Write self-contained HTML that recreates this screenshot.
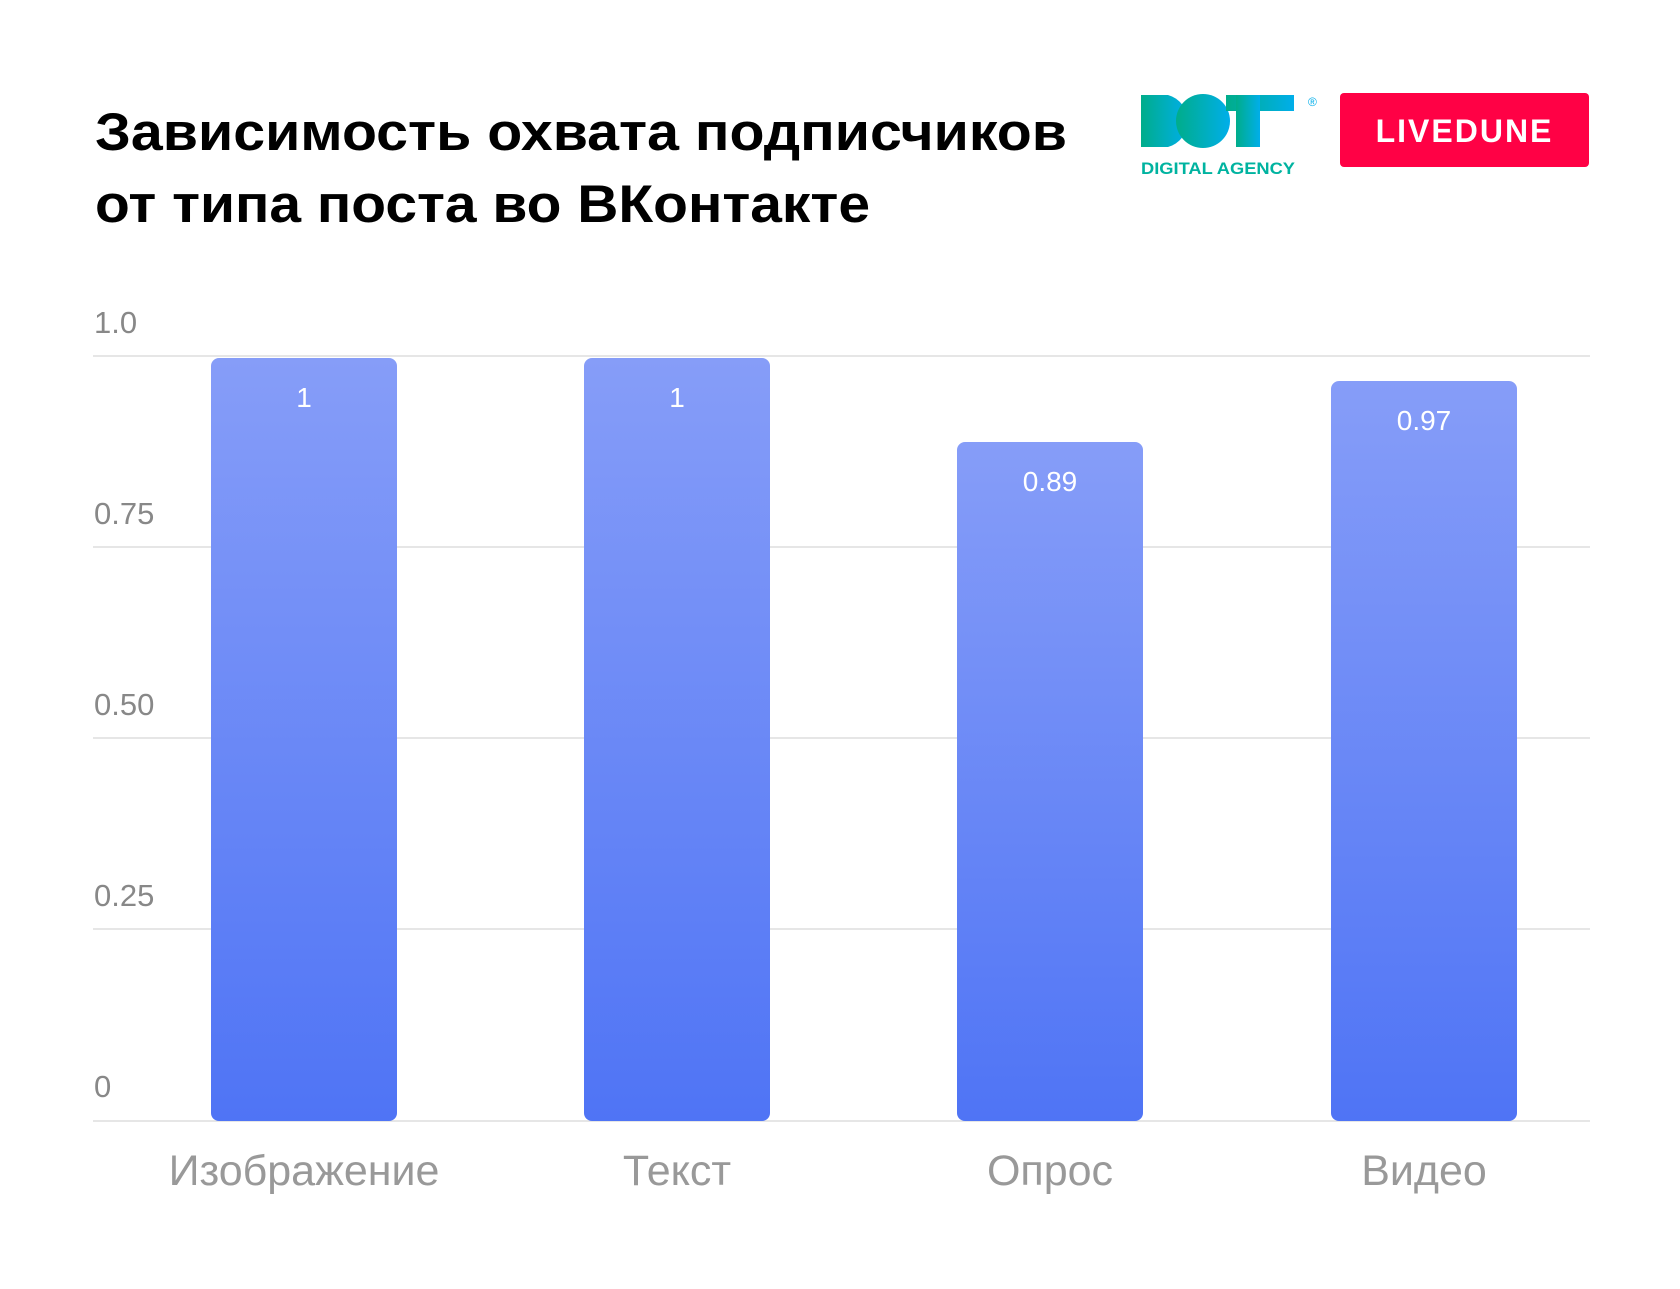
<!DOCTYPE html>
<html><head><meta charset="utf-8"><style>html,body{margin:0;padding:0;background:#fff}svg{display:block}</style></head>
<body>
<svg width="1680" height="1289" viewBox="0 0 1680 1289" xmlns="http://www.w3.org/2000/svg" font-family="'Liberation Sans', 'DejaVu Sans', sans-serif">
<defs>
<linearGradient id="g" x1="0" y1="0" x2="0" y2="1"><stop offset="0" stop-color="#869df8"/><stop offset="1" stop-color="#4f74f5"/></linearGradient>
<linearGradient id="d" x1="0" y1="0" x2="1" y2="0"><stop offset="0" stop-color="#00ad8a"/><stop offset="1" stop-color="#00aeea"/></linearGradient>
</defs>
<text x="95" y="150" font-size="53" font-weight="bold" fill="#000" textLength="972" lengthAdjust="spacingAndGlyphs">Зависимость охвата подписчиков</text>
<text x="95" y="222" font-size="53" font-weight="bold" fill="#000" textLength="775" lengthAdjust="spacingAndGlyphs">от типа поста во ВКонтакте</text>
<!-- DOT logo -->
<g fill="url(#d)">
<path d="M1141 95 H1168 A27 27 0 0 1 1168 147 H1141 Z"/>
<circle cx="1203" cy="121" r="27"/>
<rect x="1226" y="95" width="68" height="16"/>
<rect x="1236" y="95" width="24" height="52"/>
</g>
<text x="1308" y="106" font-size="12" fill="#00aeea">®</text>
<text x="1141" y="174" font-size="17" font-weight="bold" fill="#00b3a0" textLength="154" lengthAdjust="spacingAndGlyphs">DIGITAL AGENCY</text>
<rect x="1340" y="93" width="249" height="74" rx="4" fill="#ff0145"/>
<text x="1464.5" y="142" font-size="32" font-weight="bold" fill="#fff" text-anchor="middle" letter-spacing="2">LIVEDUNE</text>
<!-- grid -->
<g stroke="#e6e6e6" stroke-width="2">
<line x1="93" y1="356" x2="1590" y2="356"/>
<line x1="93" y1="547" x2="1590" y2="547"/>
<line x1="93" y1="738" x2="1590" y2="738"/>
<line x1="93" y1="929" x2="1590" y2="929"/>
<line x1="93" y1="1121" x2="1590" y2="1121"/>
</g>
<g font-size="31" fill="#888">
<text x="94" y="333">1.0</text>
<text x="94" y="524">0.75</text>
<text x="94" y="715">0.50</text>
<text x="94" y="906">0.25</text>
<text x="94" y="1097">0</text>
</g>
<g fill="url(#g)">
<rect x="211" y="358" width="186" height="763" rx="8"/>
<rect x="584" y="358" width="186" height="763" rx="8"/>
<rect x="957" y="442" width="186" height="679" rx="8"/>
<rect x="1331" y="381" width="186" height="740" rx="8"/>
</g>
<g font-size="28" fill="#fff" text-anchor="middle">
<text x="304" y="407">1</text>
<text x="677" y="407">1</text>
<text x="1050" y="491">0.89</text>
<text x="1424" y="430">0.97</text>
</g>
<g font-size="43" fill="#999" text-anchor="middle">
<text x="304" y="1185">Изображение</text>
<text x="677" y="1185">Текст</text>
<text x="1050" y="1185">Опрос</text>
<text x="1424" y="1185">Видео</text>
</g>
</svg>
</body></html>
